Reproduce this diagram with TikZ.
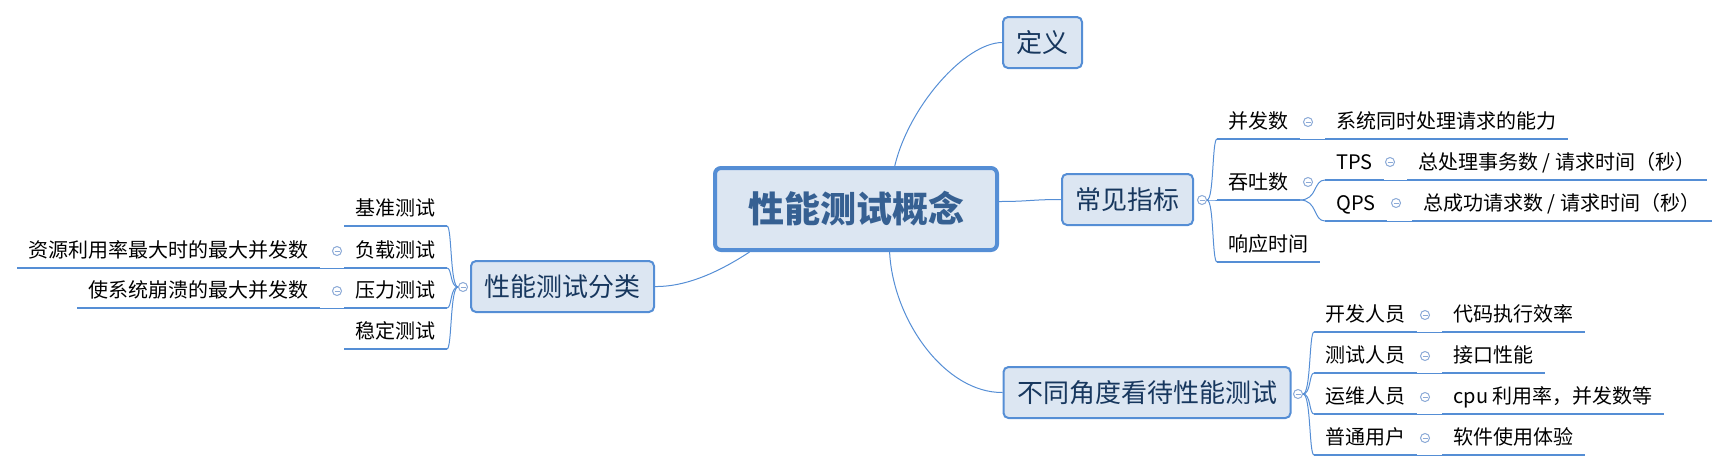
\documentclass[tikz,border=0pt]{standalone}
\usepackage{fontspec}
\setmainfont{Noto Sans CJK SC}
\definecolor{lineblue}{RGB}{85,142,213}
\definecolor{boxfill}{RGB}{220,230,242}
\definecolor{navy}{RGB}{23,55,94}
\definecolor{ctrtext}{RGB}{54,96,146}
\definecolor{foldblue}{RGB}{140,170,215}
\begin{document}
\begin{tikzpicture}[x=0.5pt, y=-0.5pt,
  central/.style={draw=lineblue, line width=2pt, fill=boxfill, rounded corners=3pt,
    minimum width=141pt, minimum height=41pt, text=ctrtext,
    text height=14pt, text depth=0.4pt, font=\fontsize{18}{20}\selectfont\bfseries},
  topic/.style={draw=lineblue, line width=1pt, fill=boxfill, rounded corners=2.5pt,
    inner xsep=6.75pt, inner ysep=0pt, minimum height=25.5pt, text=navy,
    text height=11pt, text depth=1.1pt, font=\fontsize{13}{15}\selectfont},
  sub/.style={inner xsep=5.5pt, inner ysep=2pt, text height=7.5pt, text depth=3.2pt,
    font=\fontsize{10}{12}\selectfont},
  fold/.style={circle, draw=foldblue, line width=0.5pt, fill=white,
    minimum size=4.5pt, inner sep=0pt,
    path picture={\draw[foldblue, line width=0.5pt]
      ([xshift=1pt]path picture bounding box.west) --
      ([xshift=-1pt]path picture bounding box.east);}},
  uline/.style={lineblue, line width=1.4pt},
  link/.style={lineblue, line width=0.5pt}]
  \useasboundingbox (0,0) rectangle (1733,472);

  % central topic and main branches
  \node[central] (ctr) at (856,209) {性能测试概念};
  \node[topic] (dy) at (1042.5,42.5) {定义};
  \node[topic] (cj) at (1127.5,199.5) {常见指标};
  \node[topic] (fl) at (562.5,286.5) {性能测试分类};
  \node[topic] (bt) at (1147,392.5) {不同角度看待性能测试};

  \draw[link] (ctr.48) .. controls (909,106) and (965,43) .. (dy.west);
  \draw[link] (ctr.3) .. controls +(30,0) and +(-30,0) .. (cj.west);
  \draw[link] (ctr.-52) .. controls (893,320) and (945,393) .. (bt.west);
  \draw[link] (ctr.-158) .. controls (725,268) and (690,287) .. (fl.east);

  % classification (left)
  \node[sub, anchor=south east] (jz) at (447,226) {基准测试};
  \node[sub, anchor=south east] (fz) at (447,268) {负载测试};
  \node[sub, anchor=south east] (yl) at (447,308) {压力测试};
  \node[sub, anchor=south east] (wd) at (447,349) {稳定测试};
  \node[sub, anchor=south east] (fzd) at (320,268) {资源利用率最大时的最大并发数};
  \node[sub, anchor=south east] (yld) at (320,308) {使系统崩溃的最大并发数};
  \node[fold] (cfl) at (463,287) {};
  \node[fold] (cfz) at (337,251) {};
  \node[fold] (cyl) at (337,291) {};
  \foreach \n in {jz,fz,yl,wd}
    \draw[link] (cfl.west) .. controls +(-8,0) and +(5,0) .. (\n.south east);
  \draw[link] (fzd.south east) -- (fz.south west);
  \draw[link] (yld.south east) -- (yl.south west);

  % common metrics
  \node[sub, anchor=south west] (bf) at (1217,139) {并发数};
  \node[sub, anchor=south west] (tt) at (1217,200) {吞吐数};
  \node[sub, anchor=south west] (xy) at (1217,262) {响应时间};
  \node[sub, anchor=south west] (bfd) at (1325,139) {系统同时处理请求的能力};
  \node[sub, anchor=south west] (tps) at (1325,180) {TPS};
  \node[sub, anchor=south west] (qps) at (1325,221) {QPS};
  \node[sub, anchor=south west] (tpsd) at (1407,180) {总处理事务数 / 请求时间（秒）};
  \node[sub, anchor=south west] (qpsd) at (1412,221) {总成功请求数 / 请求时间（秒）};
  \node[fold] (ccj) at (1202,200) {};
  \node[fold] (cbf) at (1308,122) {};
  \node[fold] (ctt) at (1308,182) {};
  \node[fold] (ctps) at (1390,162) {};
  \node[fold] (cqps) at (1396,203) {};
  \foreach \n in {bf,tt,xy}
    \draw[link] (ccj.east) .. controls +(7,0) and +(-5,0) .. (\n.south west);
  \foreach \n in {tps,qps}
    \draw[link] (tt.south east) .. controls +(18,0) and +(-12,0) .. (\n.south west);
  \draw[link] (bf.south east) -- (bfd.south west);
  \draw[link] (tps.south east) -- (tpsd.south west);
  \draw[link] (qps.south east) -- (qpsd.south west);

  % points of view
  \node[sub, anchor=south west] (kf) at (1314,332) {开发人员};
  \node[sub, anchor=south west] (cs) at (1314,373) {测试人员};
  \node[sub, anchor=south west] (yw) at (1314,414) {运维人员};
  \node[sub, anchor=south west] (yh) at (1314,455) {普通用户};
  \node[sub, anchor=south west] (kfd) at (1442,332) {代码执行效率};
  \node[sub, anchor=south west] (csd) at (1442,373) {接口性能};
  \node[sub, anchor=south west] (ywd) at (1442,414) {cpu 利用率，并发数等};
  \node[sub, anchor=south west] (yhd) at (1442,455) {软件使用体验};
  \node[fold] (cbt) at (1298,394) {};
  \foreach \n/\y in {kf/315,cs/356,yw/397,yh/438} {
    \node[fold] (c\n) at (1425,\y) {};
    \draw[link] (cbt.east) .. controls +(8,0) and +(-5,0) .. (\n.south west);
    \draw[link] (\n.south east) -- (\n d.south west);
  }

  % underlines
  \foreach \n in {jz,fz,yl,wd,fzd,yld,bf,tt,xy,bfd,tps,qps,tpsd,qpsd,
                  kf,cs,yw,yh,kfd,csd,ywd,yhd}
    \draw[uline] (\n.south west) -- (\n.south east);
\end{tikzpicture}
\end{document}
